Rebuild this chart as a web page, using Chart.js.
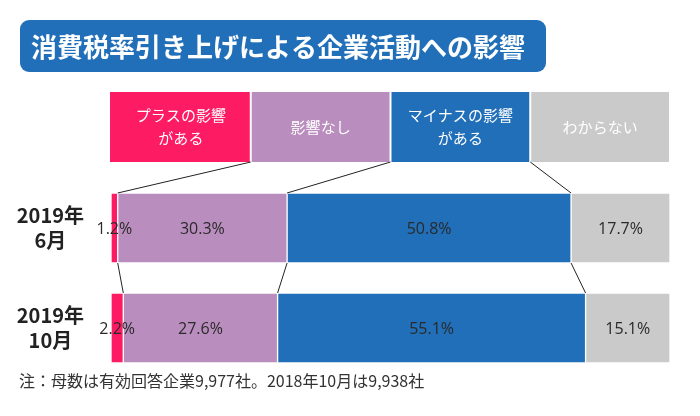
<!DOCTYPE html>
<html>
<head>
<meta charset="utf-8">
<script src="https://cdn.jsdelivr.net/npm/chart.js@4/dist/chart.umd.min.js"></script>
<style>
  body { margin: 0; background: #fff; }
  #wrap { width: 700px; height: 416px; }
</style>
</head>
<body>
<div id="wrap"><canvas id="effectChart" width="700" height="416"></canvas></div>
<script>
// data
const categories = [['2019年', '6月'], ['2019年', '10月']];
const seriesNames = ['プラスの影響がある', '影響なし', 'マイナスの影響がある', 'わからない'];
const legendLines = [['プラスの影響', 'がある'], ['影響なし'], ['マイナスの影響', 'がある'], ['わからない']];
const plusValues = [1.2, 2.2];
const noneValues = [30.3, 27.6];
const minusValues = [50.8, 55.1];
const unknownValues = [17.7, 15.1];
const titleText = '消費税率引き上げによる企業活動への影響';
const noteText = '注：母数は有効回答企業9,977社。2018年10月は9,938社';

const colors = ['#fd1b63', '#b98dbd', '#206fb8', '#cacaca'];
const jp = '"Noto Sans CJK JP", "Noto Sans", sans-serif';

const overlay = {
  id: 'overlay',
  afterDatasetsDraw(chart) {
    const { ctx, chartArea } = chart;
    ctx.save();

    // title banner
    ctx.fillStyle = '#216fb8';
    ctx.beginPath();
    ctx.roundRect(20, 20, 526, 52, 9);
    ctx.fill();
    ctx.fillStyle = '#fff';
    ctx.font = 'bold 26px ' + jp;
    ctx.textAlign = 'left';
    ctx.textBaseline = 'middle';
    ctx.fillText(titleText, 31, 47);

    // legend boxes above the bars, one quarter of the plot each
    const w = chartArea.width / 4;
    const boxTop = 92, boxBottom = 162;
    ctx.font = '15px ' + jp;
    ctx.textAlign = 'center';
    legendLines.forEach((lines, k) => {
      const x0 = chartArea.left + k * w;
      ctx.fillStyle = colors[k];
      ctx.fillRect(x0 + (k ? 1 : -1), boxTop, w - (k ? 2 : 0), boxBottom - boxTop);
      ctx.fillStyle = '#fff';
      const cy = (boxTop + boxBottom) / 2;
      lines.forEach((t, j) => {
        ctx.fillText(t, x0 + w / 2, cy + (j - (lines.length - 1) / 2) * 23);
      });
    });

    // connector lines between boxes and bars
    ctx.strokeStyle = '#222';
    ctx.lineWidth = 1;
    for (let k = 0; k < 3; k++) {
      const meta = chart.getDatasetMeta(k);
      const b1 = meta.data[0], b2 = meta.data[1];
      ctx.beginPath();
      ctx.moveTo(chartArea.left + (k + 1) * w, boxBottom);
      ctx.lineTo(b1.x, b1.y - b1.height / 2);
      ctx.moveTo(b1.x, b1.y + b1.height / 2);
      ctx.lineTo(b2.x, b2.y - b2.height / 2);
      ctx.stroke();
    }

    // value labels
    ctx.fillStyle = '#2a2a2a';
    ctx.font = '16px "Open Sans", sans-serif';
    chart.data.datasets.forEach((ds, i) => {
      chart.getDatasetMeta(i).data.forEach((bar, j) => {
        ctx.fillText(ds.data[j].toFixed(1) + '%', (bar.x + bar.base) / 2, bar.y + 1);
      });
    });

    // note
    ctx.fillStyle = '#333';
    ctx.textAlign = 'left';
    ctx.font = '16px ' + jp;
    ctx.fillText(noteText, 19, 381);
    ctx.restore();
  }
};

const chart = new Chart(document.getElementById('effectChart').getContext('2d'), {
  type: 'bar',
  data: {
    labels: categories,
    datasets: [plusValues, noneValues, minusValues, unknownValues].map((vals, i) => ({
      label: seriesNames[i],
      data: vals,
      backgroundColor: colors[i],
      borderColor: '#fff',
      borderWidth: 1,
      borderSkipped: false,
      barThickness: 70
    }))
  },
  options: {
    indexAxis: 'y',
    responsive: false,
    animation: false,
    layout: { padding: { left: 10, right: 30, top: 178, bottom: 38 } },
    plugins: {
      legend: { display: false },
      tooltip: { enabled: false }
    },
    scales: {
      x: { stacked: true, min: 0, max: 100, display: false },
      y: {
        stacked: true,
        border: { display: false },
        grid: { display: false, drawTicks: false },
        afterFit(scale) {
          scale.width = 101;
          scale.paddingTop = 0;
          scale.paddingBottom = 0;
        },
        ticks: {
          crossAlign: 'center',
          padding: 27,
          color: '#222',
          font: { family: jp, size: 20, weight: 'bold', lineHeight: 1.25 }
        }
      }
    }
  },
  plugins: [overlay]
});
</script>
</body>
</html>
